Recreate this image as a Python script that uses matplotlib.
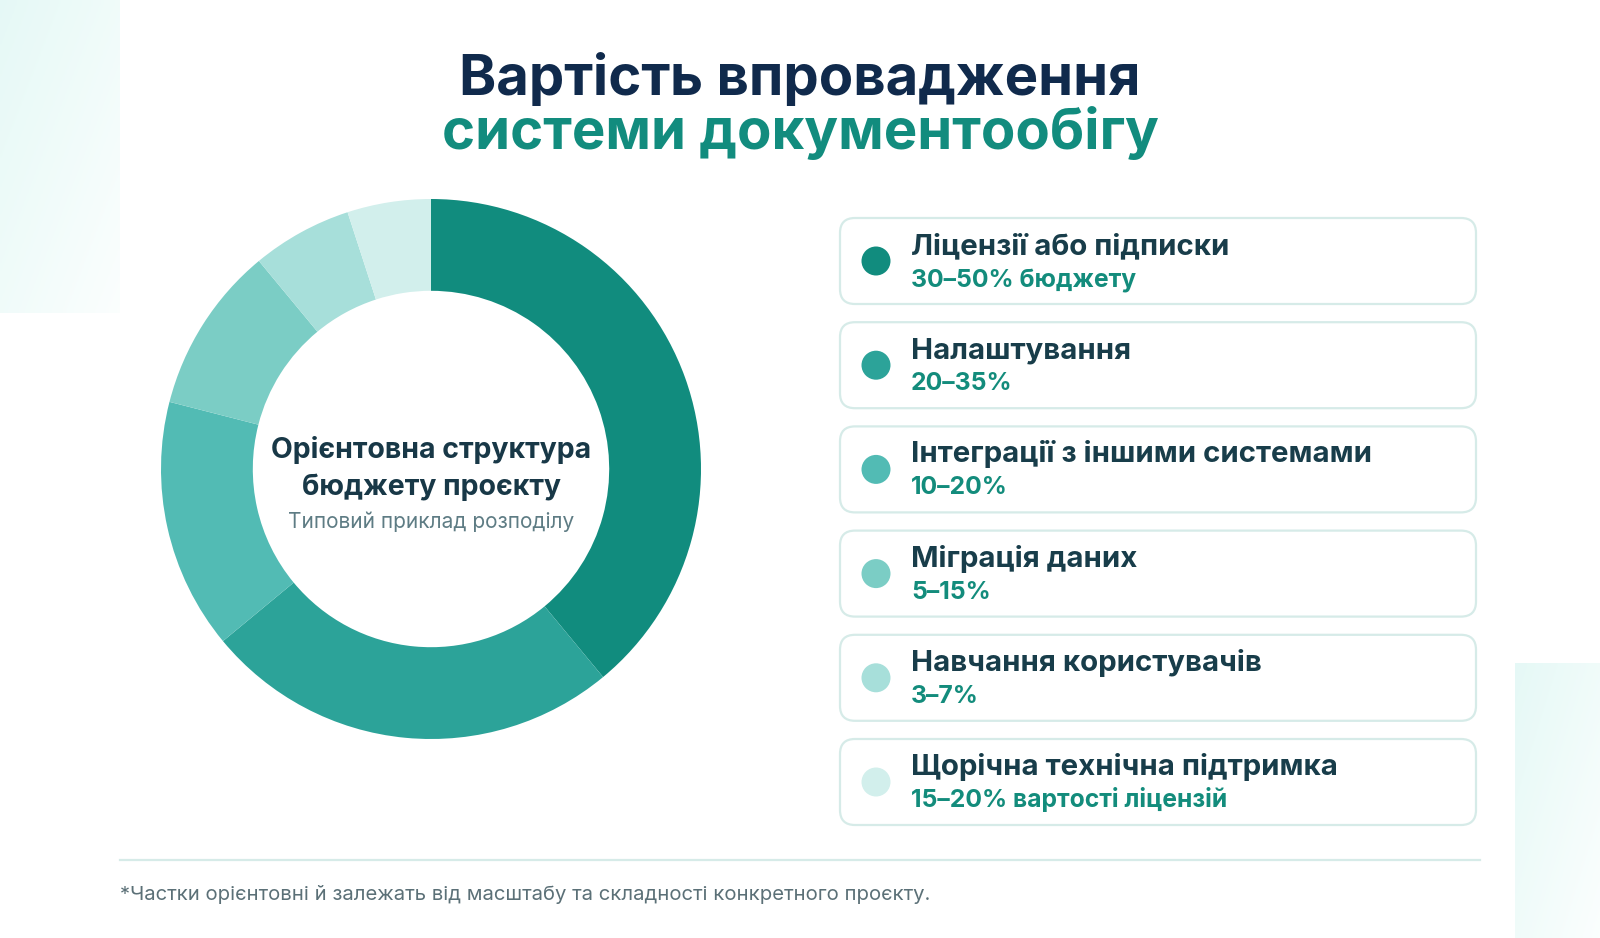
import matplotlib.pyplot as plt
import numpy as np
from matplotlib.patches import FancyBboxPatch, Circle

W, H = 1600, 938

# chart data
labels = ['Ліцензії або підписки', 'Налаштування', 'Інтеграції з іншими системами',
          'Міграція даних', 'Навчання користувачів', 'Щорічна технічна підтримка']
ranges = ['30–50% бюджету', '20–35%', '10–20%', '5–15%', '3–7%', '15–20% вартості ліцензій']
shares = [39, 25, 15, 10, 6, 5]
colors = ['#118C7E', '#2CA399', '#52BBB4', '#7BCDC5', '#A7DFDA', '#D2EFEC']

title1 = 'Вартість впровадження'
title2 = 'системи документообігу'
center_line1 = 'Орієнтовна структура'
center_line2 = 'бюджету проєкту'
center_sub = 'Типовий приклад розподілу'
footnote = '*Частки орієнтовні й залежать від масштабу та складності конкретного проєкту.'

plt.rcParams['font.family'] = ['Inter', 'DejaVu Sans']

fig = plt.figure(figsize=(16, 9.38), dpi=100)
ax = fig.add_axes([0, 0, 1, 1])


def Y(y):
    return H - y


# soft background blocks
def soft_block(x0, x1, y0, y1):
    gx, gy = np.meshgrid(np.linspace(0, 1, 50), np.linspace(0, 1, 50))
    g = (gx + gy) / 2
    c0 = np.array([0.90, 0.975, 0.965])
    c1 = np.array([0.985, 0.997, 0.995])
    img = c0[None, None, :] * (1 - g[..., None]) + c1[None, None, :] * g[..., None]
    ax.imshow(img, extent=[x0, x1, Y(y1), Y(y0)], origin='upper', aspect='auto', zorder=0)


soft_block(0, 120, 0, 313)
soft_block(1515, 1600, 663, 938)

# title
ax.text(800, Y(95), title1, ha='center', va='baseline', fontsize=40.5,
        fontweight='bold', color='#102A4C')
ax.text(800, Y(149), title2, ha='center', va='baseline', fontsize=40.5,
        fontweight='bold', color='#128C7E')

# donut
cx, cy, r = 431, 469, 270
ax.pie(shares, colors=colors, startangle=90, counterclock=False, center=(cx, Y(cy)),
       radius=r, wedgeprops=dict(width=r * 0.34, linewidth=0), frame=True)

ax.text(cx, Y(458), center_line1, ha='center', va='baseline', fontsize=20.5,
        fontweight='bold', color='#183847')
ax.text(cx, Y(495), center_line2, ha='center', va='baseline', fontsize=20.5,
        fontweight='bold', color='#183847')
ax.text(cx, Y(528), center_sub, ha='center', va='baseline', fontsize=15,
        color='#5E7C84')

# legend cards
box_x0, box_x1, box_h = 840, 1476, 86
for i, (lab, rng, col) in enumerate(zip(labels, ranges, colors)):
    top = 218 + i * 104.2
    ax.add_patch(FancyBboxPatch((box_x0, Y(top + box_h)), box_x1 - box_x0, box_h,
                                boxstyle='round,pad=0,rounding_size=15',
                                facecolor='white', edgecolor='#D6EBE8', linewidth=1.6, zorder=2))
    ax.add_patch(Circle((876, Y(top + 43)), 14.5, facecolor=col, edgecolor='none', zorder=3))
    ax.text(911, Y(top + 36), lab, ha='left', va='baseline', fontsize=21.2,
            fontweight='bold', color='#183D4A', zorder=4)
    ax.text(911, Y(top + 68), rng, ha='left', va='baseline', fontsize=17.8,
            fontweight='bold', color='#138C7C', zorder=4)

# footer
ax.plot([120, 1480], [Y(860), Y(860)], color='#D6EBE8', linewidth=1.6)
ax.text(120, Y(900), footnote, ha='left', va='baseline', fontsize=14.6, color='#5B7077')

ax.set_xlim(0, W)
ax.set_ylim(0, H)
ax.set_aspect('auto')
ax.axis('off')

fig.savefig('out.png', dpi=100, facecolor='white')
